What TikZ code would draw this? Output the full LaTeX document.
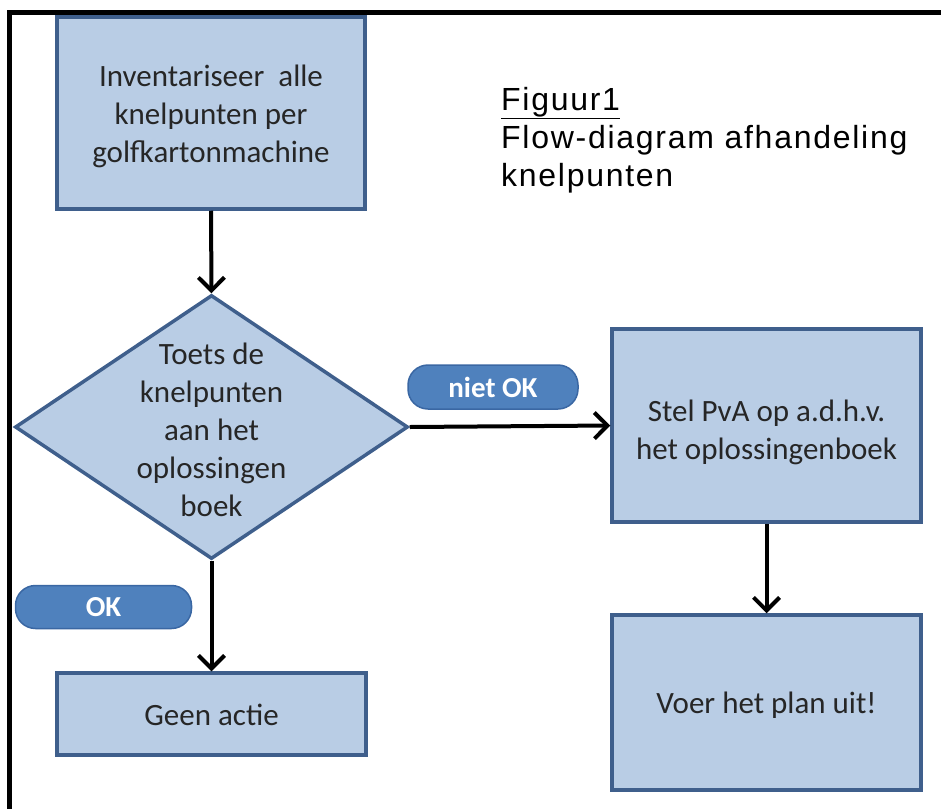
\documentclass[tikz,border=0pt]{standalone}
\usepackage{fontspec}
\setmainfont{Carlito}
\newfontfamily\titlefont[LetterSpace=5.4]{Liberation Sans}
\usetikzlibrary{shapes.geometric,arrows.meta}
\definecolor{boxfill}{HTML}{B9CDE5}
\definecolor{boxline}{HTML}{3F5F8C}
\definecolor{pillfill}{HTML}{4F81BD}
\definecolor{pillline}{HTML}{3A67A3}
\definecolor{txt}{HTML}{262626}
\tikzset{
  procbox/.style={draw=boxline, line width=3.5pt, fill=boxfill, inner sep=0pt},
  decision/.style={diamond, draw=boxline, line width=3.5pt, fill=boxfill, inner sep=0pt},
  boxtext/.style={text=txt, align=center, font=\fontsize{31}{38}\selectfont, inner sep=0pt},
  pill/.style={rounded corners=20pt, draw=pillline, line width=1.5pt, fill=pillfill,
    text=white, font=\bfseries\fontsize{29}{34}\selectfont, inner sep=0pt},
  flow/.style={line width=4pt, -{Straight Barb[length=13pt,width=26pt,line width=4pt]}},
}
\begin{document}
\begin{tikzpicture}[x=1pt,y=-1pt]
\useasboundingbox (0,0) rectangle (941,808);
% frame
\draw[line width=5pt] (9.5,830) -- (9.5,12.5) -- (960,12.5);
% boxes
\node[procbox, minimum width=308pt, minimum height=192pt] (inv) at (211,113) {};
\node[boxtext] (invtxt) at (211,116.5)
  {Inventariseer\ \ alle\\knelpunten per\\golfkartonmachine};
\node[decision, minimum width=393pt, minimum height=264pt] (toets) at (211.5,427) {};
\node[boxtext] (toetstxt) at (211.5,430) {Toets de\\knelpunten\\aan het\\oplossingen\\boek};
\node[procbox, minimum width=309pt, minimum height=193pt] (pva) at (766.5,425.5) {};
\node[boxtext] (pvatxt) at (766.5,432) {Stel PvA op a.d.h.v.\\het oplossingenboek};
\node[procbox, minimum width=309pt, minimum height=175pt] (voer) at (766.5,702.5) {};
\node[boxtext] (voertxt) at (766.5,705) {Voer het plan uit!};
\node[procbox, minimum width=309pt, minimum height=82pt] (geen) at (211.5,714) {};
\node[boxtext] (geentxt) at (211.5,714.5) {Geen actie};
% labels
\node[pill, minimum width=170pt, minimum height=44pt] (niet) at (493,387) {niet OK};
\node[pill, minimum width=176pt, minimum height=43pt] (ok) at (103.5,607) {OK};
% title
\node[anchor=north west, inner sep=0pt, align=left, font=\titlefont\fontsize{32}{38}\selectfont] (title) at (501,87)
  {\underline{Figuur1}\\Flow-diagram afhandeling\\knelpunten};
% connectors
\draw[flow] (inv.south) -- (toets.north);
\draw[flow] (toets.east) -- (pva.west);
\draw[flow] (toets.south) -- (geen.north);
\draw[flow] (pva.south) -- (voer.north);
\end{tikzpicture}
\end{document}
